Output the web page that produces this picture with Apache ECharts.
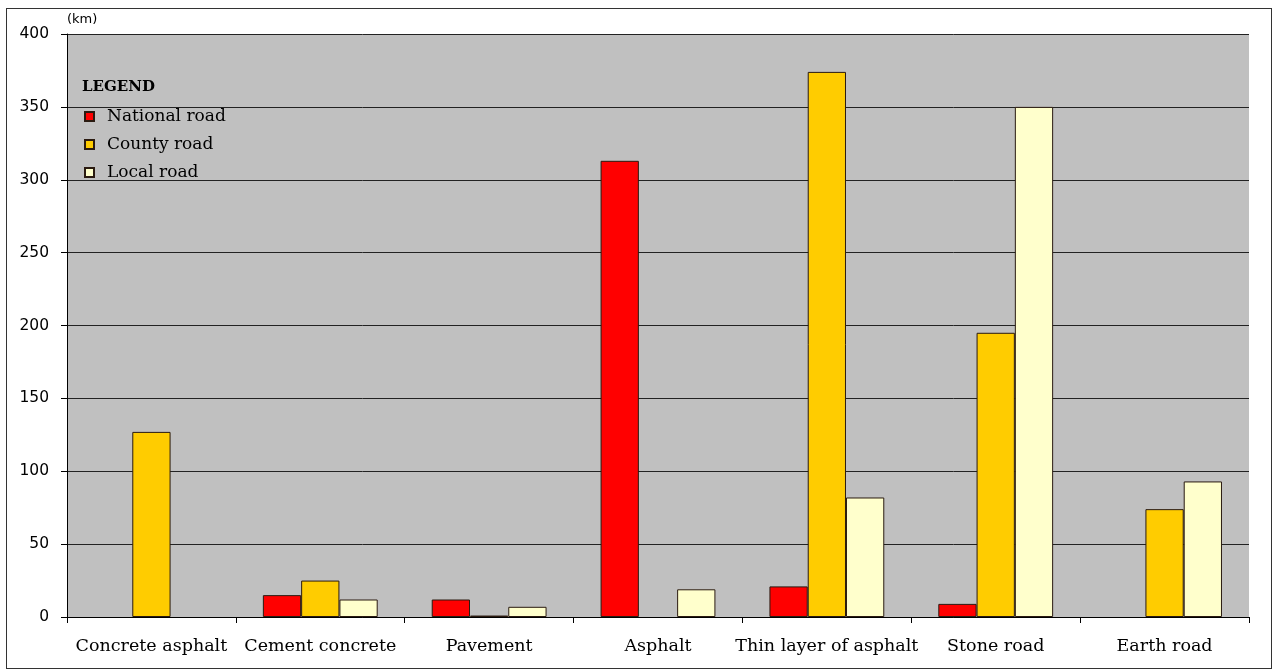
<!DOCTYPE html>
<html>
<head>
<meta charset="utf-8">
<title>Road surface types (km)</title>
<script src="https://cdn.jsdelivr.net/npm/echarts@6/dist/echarts.min.js"></script>
<style>
  html, body { margin: 0; padding: 0; background: #fff; }
  #chart { width: 1278px; height: 671px; }
  #frame {
    position: absolute; left: 6px; top: 8px; width: 1266px; height: 661px;
    border: 1px solid #333; pointer-events: none; box-sizing: border-box;
  }
</style>
</head>
<body>
<div id="chart"></div>
<div id="frame"></div>
<script>
  // categories and values (km), null = no bar drawn
  var categories = ['Concrete asphalt', 'Cement concrete', 'Pavement', 'Asphalt',
                    'Thin layer of asphalt', 'Stone road', 'Earth road'];
  var nationalRoad = [null, 15, 12, 313, 21, 9, null];
  var countyRoad   = [127, 25, 1, null, 374, 195, 74];
  var localRoad    = [null, 12, 7, 19, 82, 350, 93];
  var seriesNames  = ['National road', 'County road', 'Local road'];
  var seriesColors = ['#ff0000', '#ffcc00', '#ffffcc'];

  var serif = '"DejaVu Serif", "Liberation Serif", serif';
  var sans = '"DejaVu Sans", "Liberation Sans", sans-serif';

  var mychart = echarts.init(document.getElementById('chart'));

  function bar(name, data, color) {
    return {
      name: name,
      type: 'bar',
      data: data,
      barGap: '0%',
      barCategoryGap: '32%',
      itemStyle: { color: color, borderColor: '#2a1a10', borderWidth: 1 }
    };
  }

  mychart.setOption({
    animation: false,
    backgroundColor: '#fff',
    grid: {
      left: 67, right: 29, top: 34, bottom: 54,
      show: true, backgroundColor: '#c0c0c0', borderWidth: 0
    },
    graphic: [{
      type: 'text',
      left: 82, top: 80,
      style: { text: 'LEGEND', font: 'bold 15px ' + serif, fill: '#000' }
    }],
    legend: {
      orient: 'vertical',
      left: 79, top: 103,
      itemWidth: 9, itemHeight: 9,
      itemGap: 11,
      icon: 'rect',
      data: seriesNames,
      textStyle: { fontFamily: serif, fontSize: 17, color: '#000', padding: [0, 0, 0, 8] }
    },
    xAxis: {
      type: 'category',
      data: categories,
      axisLine: { lineStyle: { color: '#000', width: 1 } },
      axisTick: { show: true, length: 6, lineStyle: { color: '#000' } },
      axisLabel: { interval: 0, margin: 20, color: '#000', fontFamily: serif, fontSize: 17.5 }
    },
    yAxis: {
      type: 'value',
      min: 0, max: 400, interval: 50,
      name: '(km)',
      nameLocation: 'end',
      nameGap: 8,
      nameTextStyle: { fontFamily: sans, fontSize: 13, color: '#000', align: 'left' },
      axisLine: { show: true, lineStyle: { color: '#000', width: 1 } },
      axisTick: { show: true, length: 6, lineStyle: { color: '#000' } },
      axisLabel: { margin: 18, color: '#000', fontFamily: sans, fontSize: 15.5 },
      splitLine: { show: true, lineStyle: { color: '#222', width: 1 } }
    },
    series: [
      bar(seriesNames[0], nationalRoad, seriesColors[0]),
      bar(seriesNames[1], countyRoad, seriesColors[1]),
      bar(seriesNames[2], localRoad, seriesColors[2])
    ]
  });
</script>
</body>
</html>
